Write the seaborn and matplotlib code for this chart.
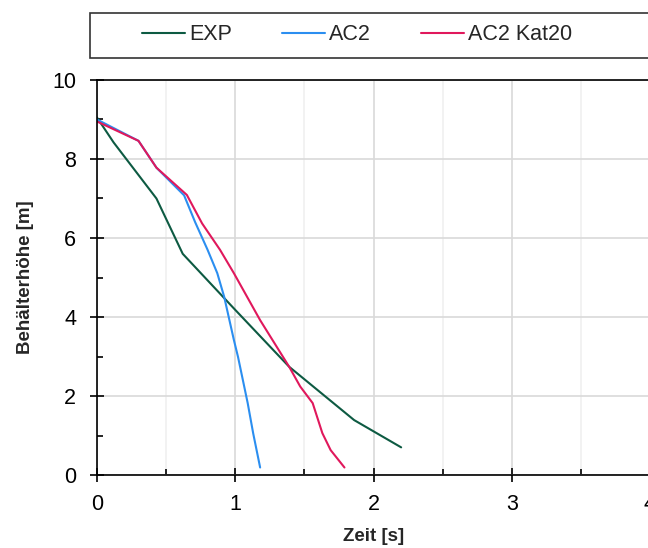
import numpy as np
import pandas as pd
import matplotlib
matplotlib.use("Agg")
import matplotlib.pyplot as plt
from matplotlib.patches import Rectangle
from matplotlib.ticker import MultipleLocator
import seaborn as sns

# ============================================================
# Data
# ============================================================
exp_t = [0.0, 0.12, 0.43, 0.62, 0.81, 1.00, 1.39, 1.86, 2.20]
exp_h = [9.05, 8.42, 7.00, 5.60, 4.89, 4.18, 2.74, 1.39, 0.70]

ac2_t = [0.0, 0.30, 0.43, 0.63, 0.71, 0.80, 0.87, 0.92, 0.99, 1.02, 1.09, 1.13, 1.18]
ac2_h = [9.00, 8.46, 7.78, 7.08, 6.40, 5.70, 5.11, 4.51, 3.42, 2.99, 1.82, 1.05, 0.19]

kat_t = [0.0, 0.30, 0.43, 0.65, 0.76, 0.89, 0.99, 1.18, 1.39, 1.47, 1.56, 1.63, 1.69, 1.79]
kat_h = [8.95, 8.46, 7.78, 7.09, 6.37, 5.70, 5.11, 3.92, 2.74, 2.24, 1.82, 1.06, 0.63, 0.19]

series_names = ["EXP", "AC2", "AC2 Kat20"]
series_colors = ["#0d5a42", "#2b8ef0", "#e0185c"]

df = pd.concat([
    pd.DataFrame({"t": exp_t, "h": exp_h, "serie": "EXP"}),
    pd.DataFrame({"t": ac2_t, "h": ac2_h, "serie": "AC2"}),
    pd.DataFrame({"t": kat_t, "h": kat_h, "serie": "AC2 Kat20"}),
], ignore_index=True)

# ============================================================
# Style
# ============================================================
sns.set_style("white")
plt.rcParams["font.family"] = ["Liberation Sans", "DejaVu Sans"]

fig = plt.figure(figsize=(6.48, 5.48), dpi=100)
ax = fig.add_axes([97 / 648, 73 / 548, 553 / 648, 395 / 548])

sns.lineplot(data=df, x="t", y="h", hue="serie", hue_order=series_names,
             palette=series_colors, sort=False, estimator=None,
             linewidth=1.5, ax=ax, legend=False)

ax.set_xlim(0, 4)
ax.set_ylim(0, 10)
ax.xaxis.set_major_locator(MultipleLocator(1))
ax.xaxis.set_minor_locator(MultipleLocator(0.5))
ax.yaxis.set_major_locator(MultipleLocator(2))
ax.yaxis.set_minor_locator(MultipleLocator(1))

ax.grid(True, which="major", color="#d9d9d9", linewidth=1.2)
ax.grid(True, which="minor", axis="x", color="#f0f0f0", linewidth=1.2)
ax.set_axisbelow(True)

# seaborn "white" style hides ticks, switch them back on
ax.tick_params(which="both", bottom=True, left=True, top=False, right=False)
ax.tick_params(which="major", direction="inout", length=10, width=1.2,
               labelsize=15.5, colors="black")
ax.tick_params(which="minor", direction="in", length=4.5, width=1.2, colors="black")
ax.tick_params(axis="x", which="major", pad=9)
ax.tick_params(axis="y", which="major", pad=10)

for s in ax.spines.values():
    s.set_color("black")
    s.set_linewidth(1.2)

ax.set_xlabel("Zeit [s]", fontsize=13.5, fontweight="bold", labelpad=9)
ax.set_ylabel("Behälterhöhe [m]", fontsize=13.5, fontweight="bold", labelpad=13)

# legend box on top
fig.patches.append(Rectangle((90 / 648, (548 - 58) / 548), 0.9, 45 / 548,
                             transform=fig.transFigure, facecolor="white",
                             edgecolor="#333333", linewidth=1.2))
handles = [plt.Line2D([], [], color=c, linewidth=1.5) for c in series_colors]
fig.legend(handles, series_names, loc="center", ncol=3,
           bbox_to_anchor=(357 / 648, (548 - 35) / 548), frameon=False,
           fontsize=15.5, handlelength=2.0, handletextpad=0.2, columnspacing=2.3)

fig.savefig("out.png", dpi=100)
